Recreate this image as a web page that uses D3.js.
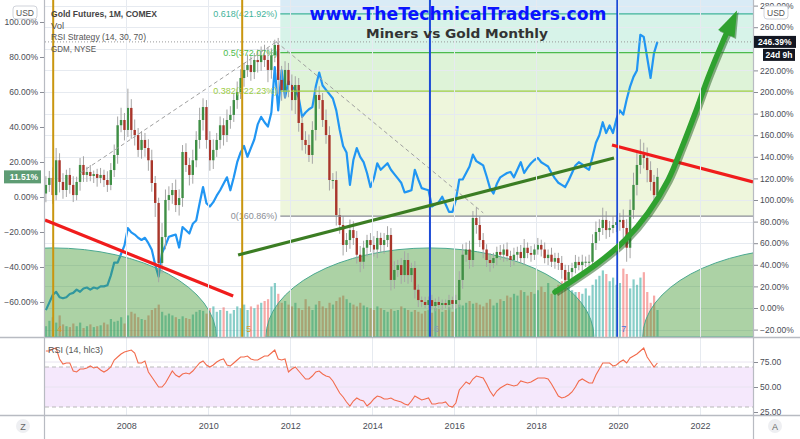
<!DOCTYPE html>
<html><head><meta charset="utf-8">
<script src="https://cdn.jsdelivr.net/npm/d3@7"></script>
<style>body{margin:0;background:#fff}svg{display:block}text{font-family:"Liberation Sans",Arial,sans-serif}</style>
</head><body><svg id="c" width="800" height="439"></svg>
<script>
// ---------- DATA (monthly, Jan 2006 .. Dec 2020) ----------
const START_YEAR = 2006;
const goldClose = [
 6.9,10.9,1.1,21,8.6,4,12.6,6.9,1.1,8.6,18.3,12.6,
 14.3,12,13.1,10.9,12.6,9.7,6.9,15.4,24,41,44,38.3,
 50.9,38.3,35.4,26.9,32.6,28,21,8,-3.4,-37.7,-22.9,-1.7,
 1.1,4,-4.6,-0.6,25.7,18.3,12.6,21,32.6,44,51.4,32.6,
 21,26.9,32.6,41,35.4,44,46.9,55.4,60,68,72.6,75.4,
 71.4,78.3,77.1,81,78.3,72.6,81,86.9,66.9,61,72.6,64,
 55.4,64,42.3,32.6,29.7,24,38.3,58.3,55.4,44,35.4,9.7,
 9.7,-10.3,-16,-27.4,-24.6,-18.9,-23.4,-33,-37,-29,-24.6,-27.4,
 -30,-23.4,-27.4,-24.6,-21.7,-47.4,-41.7,-38.9,-44.6,-36,-44.6,-40.6,
 -53,-58.9,-60,-61.7,-58.9,-62.3,-60,-61.7,-60.6,-61.7,-58.9,-61.1,
 -58.9,-47.4,-33,-30,-36,-12,-16,-24.6,-30,-36,-37.7,-34.9,
 -31.4,-33,-30,-33.7,-36,-33,-31.4,-34.9,-29,-32,-33,-30,
 -27.4,-30,-34.9,-33,-37,-34.9,-37.7,-41.7,-47.4,-42.9,-40.6,-37.1,
 -38.9,-37,-37,-37,-26.3,-20,-17.7,-13.1,-18.9,-17.7,-16,-14.3,
 -13.1,-17.7,-29,-7.4,6.9,18.3,24,22.3,15.4,8.6,1.1,11.51];
const goldFirstOpen = 2;
const goldWickUp = [
 5,4,6,7,4,5,3,4,5,3,4,5, 3,4,2,3,4,3,5,4,6,5,7,4, 11,5,6,4,5,4,5,6,4,3,8,6,
 5,4,6,5,4,5,4,6,5,7,5,4, 5,6,4,5,4,6,5,4,6,5,4,6, 5,4,6,5,6,7,4,3,4,8,5,4,
 6,5,4,4,5,6,5,4,5,4,6,5, 4,5,4,5,4,6,5,4,5,4,3,4, 5,4,3,4,5,4,5,3,4,5,4,3,
 4,3,2,3,2,3,2,3,2,2,3,2, 3,5,6,4,5,4,6,5,4,3,4,3, 3,4,3,4,3,4,3,4,5,3,4,3,
 4,3,4,3,4,3,3,4,3,4,3,4, 3,4,3,4,5,6,5,7,5,4,5,4, 4,6,5,6,7,8,9,7,6,5,4,5];
const goldWickDn = [
 5,4,5,3,6,5,4,5,4,3,5,4, 4,3,4,5,3,4,4,3,4,5,4,6, 4,5,6,4,5,5,6,5,8,11,6,7,
 6,5,4,6,5,4,6,5,4,5,6,5, 6,5,4,5,6,4,5,4,5,4,5,4, 5,4,6,5,4,7,5,4,8,6,5,7,
 6,8,5,6,5,4,5,6,5,4,5,6, 5,6,5,6,4,5,4,5,6,4,5,4, 4,5,4,5,4,6,5,4,5,4,5,4,
 5,4,3,2,3,2,3,2,3,2,3,3, 3,4,5,4,5,4,5,4,5,4,5,3, 4,3,4,3,4,3,4,3,4,3,4,3,
 3,4,3,4,3,4,4,5,4,3,4,3, 3,4,3,4,3,4,5,4,5,4,3,4, 5,6,8,6,5,6,5,6,7,5,6,4];
const volume = [
 60,90,110,80,120,70,60,55,75,60,80,50, 60,70,55,60,65,80,70,100,85,90,110,75,
 120,140,130,110,100,95,120,150,160,180,140,120, 130,120,110,100,115,105,100,125,140,150,145,130,
 160,170,140,150,165,145,130,150,170,160,180,150, 170,160,180,190,200,210,280,300,240,190,200,180,
 170,190,160,150,210,170,150,180,200,170,160,190, 180,200,220,230,210,190,180,170,190,175,165,160,
 150,170,160,150,140,155,145,150,170,160,150,140, 150,140,130,145,150,135,160,155,140,150,165,140,
 160,180,175,190,200,185,190,180,170,190,210,175, 190,210,200,230,220,240,230,260,250,230,250,240,
 260,280,250,300,240,270,290,310,330,280,260,250, 250,240,270,230,290,320,340,370,350,310,330,290,
 300,380,350,270,320,290,330,360,250,190,230,150];
const gdm = [
 -2,5,12,15,10,9,10,13,14,17,15,18, 19,17,19,18,20,20,21,30,42,42,50,58,
 74,70,68,65,63,65,60,54,40,29,51,58, 66,67,68,56,75,72,69,78,81,97,112,97,
 94,98,104,109,115,121,109,121,135,144,150,140, 148,156,170,177,172,168,181,223,183,220,195,210,
 205,202,195,177,181,184,186,205,218,206,202,198, 194,183,165,150,144,114,137,148,140,135,125,112,
 120,134,128,131,134,128,124,120,116,107,108,109, 128,119,111,110,109,94,96,98,103,96,89,89,
 100,119,119,125,131,142,136,134,132,122,111,106, 115,121,123,125,126,121,128,135,125,130,134,137,
 139,135,133,131,125,120,116,114,112,118,125,132, 135,133,130,128,140,153,160,172,162,169,162,175,
 183,179,193,205,214,220,253,251,232,213,236,246.39];
const rsi = [
 86,86,88,89,78,73,74,74,66,65,68,68, 69,71,69,70,67,65,67,70,77,80,83,85,
 86,87,84,74,74,76,65,60,55,50,50,54, 60,66,62,60,63,64,63,66,70,74,76,72,
 70,72,75,77,78,72,71,74,77,80,80,81, 78,77,77,79,81,81,84,87,78,77,78,65,
 68,70,66,62,58,58,61,65,66,63,61,60, 56,50,44,40,35,31,36,39,37,36,31,34,
 38,41,40,38,38,39,37,36,35,33,32,36, 41,39,37,38,39,33,33,34,34,35,31,30,
 34,47,51,55,53,58,61,60,59,53,46,41, 46,49,51,53,52,51,52,56,55,54,55,57,
 59,59,59,58,53,47,41,39,40,42,45,50, 56,58,56,54,54,62,68,74,74,74,71,72,
 75,77,74,79,81,83,86,89,80,75,70,74];
const yearTicks = [2008,2010,2012,2014,2016,2018,2020,2022];
const leftTicks = [-60,-40,-20,0,20,40,60,80,100];
const rightTicks = [-20,0,20,40,60,80,100,120,140,160,180,200,220,260,280];
const gridTicks = [-20,0,20,40,60,80,100,120,140,160,180,200,220,240,260,280];
const rsiTicks = [25,50,75];
const fibBase = -10.9, fibRange = 186.9, fibStart = 2011.76;
const fibLevels = [
 {r:0.618, label:"0.618(421.92%)", color:"#3fb39a"},
 {r:0.5,   label:"0.5(372.07%)",   color:"#4cbb4c"},
 {r:0.382, label:"0.382(322.23%)", color:"#9ccc45"},
 {r:0,     label:"0(160.86%)",     color:"#8a8d96"}];
const fibZoneColors = ["#d9ebf6","#d7f3e9","#def3d8","#eef6dc"];
const cycles = [
 {year:2006.22, label:"4", color:"#c9960f"},
 {year:2010.83, label:"5", color:"#c9960f"},
 {year:2015.41, label:"6", color:"#1b4ad6"},
 {year:2019.98, label:"7", color:"#1b4ad6"}];
const cycleLabelColors = ["#d89a2a","#d89a2a","#8a97b8","#4a72d8"];
const arcs = [{center:2006.2, half:4.0, top:-29.1},{center:2015.41, half:4.0, top:-29.1},{center:2024.6, half:4.0, top:-29.1}];
const redLines = [[[2006.02,-13.1],[2010.61,-56.6]], [[2019.85,29.7],[2023.29,8.6]]];
const greenLine = [[2010.73,-33.1],[2019.9,22.3]];
const dashedLines = [[[2006.88,13.7],[2011.66,88.6]], [[2011.66,88.6],[2016.71,-9.1]]];
const arrowPts = [[2018.46,-54.3],[2019.51,-37.7],[2020.17,-24.6],[2020.73,-9.1],[2021.22,9.7],[2021.56,28.6],[2021.88,48],[2022.20,68.6],[2022.54,88],[2022.66,94.3]];
const arrowTip = [2022.90,106.5];

// ---------- LAYOUT ----------
const svg = d3.select("#c");
const L=45, R=753, MT=0, MB=337, RT=338, RB=415;
const x = d3.scaleLinear().domain([2006.02, 2023.29]).range([L, R]);
const yL = d3.scaleLinear().domain([-80, 112.57]).range([MB, MT]);
const yR = d3.scaleLinear().domain([-26.85, 285.19]).range([MB, MT]);
const yV = d3.scaleLinear().domain([0, 500]).range([MB, 247]);
const yS = d3.scaleLinear().domain([22, 100]).range([RB, RT-1]);
const mt = i => START_YEAR + (i + 0.5) / 12;
const N = goldClose.length;

const defs = svg.append("defs");
defs.append("clipPath").attr("id","cm").append("rect").attr("x",L).attr("y",MT).attr("width",R-L).attr("height",MB-MT);
defs.append("clipPath").attr("id","cr").append("rect").attr("x",L).attr("y",RT).attr("width",R-L).attr("height",RB-RT);

const main = svg.append("g").attr("clip-path","url(#cm)");

// fib zones
const fibY = r => yL(fibBase + fibRange * r);
const zoneBounds = [[MT, fibY(0.618)],[fibY(0.618), fibY(0.5)],[fibY(0.5), fibY(0.382)],[fibY(0.382), fibY(0)]];
zoneBounds.forEach((b,k)=>{
  main.append("rect").attr("x",x(fibStart)).attr("y",b[0]).attr("width",R-x(fibStart)).attr("height",b[1]-b[0]).attr("fill",fibZoneColors[k]);
});

// grid
main.selectAll(".hg").data(gridTicks).join("line").attr("x1",L).attr("x2",R)
  .attr("y1",d=>Math.round(yR(d))+0.5).attr("y2",d=>Math.round(yR(d))+0.5).attr("stroke","#e6eaf0").attr("stroke-width",1);
svg.selectAll(".vg").data(yearTicks).join("line").attr("x1",d=>Math.round(x(d))+0.5).attr("x2",d=>Math.round(x(d))+0.5)
  .attr("y1",MT).attr("y2",RB).attr("stroke","#e6eaf0");

// volume
const opens = goldClose.map((c,i)=> i===0 ? goldFirstOpen : goldClose[i-1]);
main.selectAll(".vol").data(volume).join("rect")
  .attr("x",(d,i)=>x(mt(i))-1).attr("width",2.2)
  .attr("y",d=>yV(d)).attr("height",d=>MB-yV(d))
  .attr("fill",(d,i)=> goldClose[i]>=opens[i] ? "rgba(38,166,154,0.55)" : "rgba(239,83,80,0.5)");

// blue GDM line
main.append("path").datum(gdm).attr("fill","none").attr("stroke","#2196f3").attr("stroke-width",2.2)
  .attr("stroke-linejoin","round")
  .attr("d", d3.line().x((d,i)=>x(mt(i))).y(d=>yR(d)));

// arcs
arcs.forEach(a=>{
  const x0=x(a.center-a.half), x1=x(a.center+a.half), rx=(x1-x0)/2, ry=MB-yL(a.top);
  main.append("path").attr("d",`M${x0},${MB} A${rx},${ry} 0 0 1 ${x1},${MB} Z`)
    .attr("fill","rgba(70,155,55,0.45)").attr("stroke","#4aa88f").attr("stroke-width",1);
});

// candles
const cg = main.append("g");
goldClose.forEach((c,i)=>{
  const o=opens[i], hi=Math.max(o,c)+goldWickUp[i], lo=Math.min(o,c)-goldWickDn[i];
  const cx=x(mt(i)), up=c>=o;
  cg.append("line").attr("x1",cx).attr("x2",cx).attr("y1",yL(hi)).attr("y2",yL(lo)).attr("stroke","#a5a5a5").attr("stroke-width",1);
  const y0=yL(Math.max(o,c)), y1=yL(Math.min(o,c));
  cg.append("rect").attr("x",cx-1.2).attr("width",2.4).attr("y",y0).attr("height",Math.max(1,y1-y0))
    .attr("fill",up?"#3f8f45":"#a9362b");
});

// fib lines and labels
fibLevels.forEach(f=>{
  const yy=fibY(f.r);
  main.append("line").attr("x1",x(fibStart)).attr("x2",R).attr("y1",yy).attr("y2",yy).attr("stroke",f.color).attr("stroke-width",1.3);
  main.append("text").attr("x",x(fibStart)-3).attr("y",yy+3).attr("text-anchor","end").attr("font-size",9).attr("fill",f.color).text(f.label);
});

// dotted last-price line of GDM
main.append("line").attr("x1",L).attr("x2",R).attr("y1",yR(gdm[N-1])).attr("y2",yR(gdm[N-1]))
  .attr("stroke","#9a9a9a").attr("stroke-dasharray","1,2");

// dashed fib trend lines
dashedLines.forEach(l=>{
  main.append("line").attr("x1",x(l[0][0])).attr("y1",yL(l[0][1])).attr("x2",x(l[1][0])).attr("y2",yL(l[1][1]))
    .attr("stroke","#a0a0a0").attr("stroke-dasharray","4,3").attr("stroke-width",1);
});

// cycle vertical lines
cycles.forEach((c,k)=>{
  main.append("line").attr("x1",x(c.year)).attr("x2",x(c.year)).attr("y1",MT).attr("y2",MB).attr("stroke",c.color).attr("stroke-width",2);
  main.append("text").attr("x",x(c.year)+4).attr("y",MB-5).attr("font-size",9).attr("fill",cycleLabelColors[k]).text(c.label);
});

// trend lines
redLines.forEach(l=>{
  main.append("line").attr("x1",x(l[0][0])).attr("y1",yL(l[0][1])).attr("x2",x(l[1][0])).attr("y2",yL(l[1][1]))
    .attr("stroke","#f01c1c").attr("stroke-width",3.2);
});
main.append("line").attr("x1",x(greenLine[0][0])).attr("y1",yL(greenLine[0][1])).attr("x2",x(greenLine[1][0])).attr("y2",yL(greenLine[1][1]))
  .attr("stroke","#3b7d23").attr("stroke-width",3.2);

// big green arrow
const aLine = d3.line().x(d=>x(d[0])).y(d=>yL(d[1])).curve(d3.curveCatmullRom);
const P = arrowPts[arrowPts.length-1];
const px=x(P[0]), py=yL(P[1]), tx=x(arrowTip[0]), ty=yL(arrowTip[1]);
const dx=tx-px, dy=ty-py, len=Math.hypot(dx,dy), nx=-dy/len, ny=dx/len, hw=9;
const bx=px-dx/len*2, by=py-dy/len*2;
const head = `M${tx},${ty} L${bx+nx*hw},${by+ny*hw} L${bx-nx*hw},${by-ny*hw} Z`;
const ag = main.append("g");
ag.append("path").attr("d",aLine(arrowPts)).attr("fill","none").attr("stroke","#1e5e1a").attr("stroke-width",6).attr("opacity",0.5).attr("transform","translate(1.5,1.5)");
ag.append("path").attr("d",head).attr("fill","#1e5e1a").attr("opacity",0.5).attr("transform","translate(1.5,1.5)");
ag.append("path").attr("d",aLine(arrowPts)).attr("fill","none").attr("stroke","#2fa12f").attr("stroke-width",5.5).attr("stroke-linecap","round");
ag.append("path").attr("d",head).attr("fill","#2fa12f");

// titles
svg.append("text").attr("x",458).attr("y",20).attr("text-anchor","middle").attr("font-size",17).attr("font-weight","bold")
  .style("font-family","'DejaVu Sans',Verdana,sans-serif").attr("fill","#0a14ff").attr("textLength",297).attr("lengthAdjust","spacingAndGlyphs").text("www.TheTechnicalTraders.com");
svg.append("text").attr("x",457).attr("y",38).attr("text-anchor","middle").attr("font-size",13).attr("font-weight","bold")
  .style("font-family","'DejaVu Sans',Verdana,sans-serif").attr("fill","#333").attr("textLength",182).attr("lengthAdjust","spacingAndGlyphs").text("Miners vs Gold Monthly");

// legend
const legend = [["Gold Futures, 1M, COMEX","bold","#444",106],["Vol","normal","#555",null],["RSI Strategy (14, 30, 70)","normal","#555",95],["GDM, NYSE","normal","#555",45]];
legend.forEach((l,k)=>{
  const t=svg.append("text").attr("x",51).attr("y",17+k*11.6).attr("font-size",9.5).attr("font-weight",l[1]).attr("fill",l[2]).text(l[0]);
  if(l[3]) t.attr("textLength",l[3]).attr("lengthAdjust","spacingAndGlyphs");
});

// ---------- RSI pane ----------
const rp = svg.append("g").attr("clip-path","url(#cr)");
rp.append("rect").attr("x",L).attr("width",R-L).attr("y",yS(70)).attr("height",yS(30)-yS(70)).attr("fill","#f5e8fc");
[75,50].forEach(v=>rp.append("line").attr("x1",L).attr("x2",R).attr("y1",yS(v)).attr("y2",yS(v)).attr("stroke","#e8e4f0"));
[70,30].forEach(v=>rp.append("line").attr("x1",L).attr("x2",R).attr("y1",yS(v)).attr("y2",yS(v)).attr("stroke","#b9b9b9").attr("stroke-dasharray","4,3"));
rp.append("path").datum(rsi).attr("fill","none").attr("stroke","#f26b4c").attr("stroke-width",1.1)
  .attr("d",d3.line().x((d,i)=>x(mt(i))).y(d=>yS(d)));
svg.append("text").attr("x",48).attr("y",353).attr("font-size",9).attr("fill","#555").text("RSI (14, hlc3)");

// ---------- frame ----------
const frame = "#b8bbc2";
svg.append("line").attr("x1",0).attr("x2",800).attr("y1",MB+0.5).attr("y2",MB+0.5).attr("stroke",frame).attr("stroke-width",1.5);
svg.append("line").attr("x1",0).attr("x2",800).attr("y1",RB+0.5).attr("y2",RB+0.5).attr("stroke",frame).attr("stroke-width",1.5);
svg.append("line").attr("x1",L-0.5).attr("x2",L-0.5).attr("y1",0).attr("y2",439).attr("stroke",frame).attr("stroke-width",1.2);
svg.append("line").attr("x1",R+0.5).attr("x2",R+0.5).attr("y1",0).attr("y2",439).attr("stroke",frame).attr("stroke-width",1.2);

// ---------- axes ----------
const fmtPct = d => (d<0?"\u2212":"") + Math.abs(d).toFixed(2) + "%";
function styleAxis(g){ g.select(".domain").remove(); g.selectAll("text").attr("font-size",8.5).attr("fill","#4a4d56").style("font-family","'Liberation Sans',Arial,sans-serif"); g.selectAll("line").attr("stroke","#8a8d96"); }
svg.append("g").attr("transform",`translate(${L-1},0)`).call(d3.axisLeft(yL).tickValues(leftTicks).tickFormat(fmtPct).tickSize(4).tickPadding(2)).call(styleAxis);
svg.append("g").attr("transform",`translate(${R+1},0)`).call(d3.axisRight(yR).tickValues(rightTicks).tickFormat(fmtPct).tickSize(4).tickPadding(2)).call(styleAxis);
svg.append("g").attr("transform",`translate(${R+1},0)`).call(d3.axisRight(yS).tickValues(rsiTicks).tickFormat(d=>d.toFixed(2)).tickSize(4).tickPadding(2)).call(styleAxis);
svg.append("g").attr("transform",`translate(0,${RB})`).call(d3.axisBottom(x).tickValues(yearTicks).tickFormat(d3.format("d")).tickSize(0).tickPadding(8)).call(g=>{styleAxis(g); g.selectAll("text").attr("font-size",9);});

// USD boxes
[[13,"USD"],[764,"USD"]].forEach(b=>{
  svg.append("rect").attr("x",b[0]).attr("y",6).attr("width",24).attr("height",13).attr("rx",3).attr("fill","#fff").attr("stroke","#d0d3da");
  svg.append("text").attr("x",b[0]+12).attr("y",15.5).attr("text-anchor","middle").attr("font-size",8.5).attr("fill","#555").text(b[1]);
});

// last value labels
const lastGold = goldClose[N-1];
svg.append("rect").attr("x",4).attr("y",yL(lastGold)-6.5).attr("width",37).attr("height",13).attr("fill","#5e9c74");
svg.append("text").attr("x",38).attr("y",yL(lastGold)+3).attr("text-anchor","end").attr("font-size",8.5).attr("font-weight","bold").attr("fill","#fff").text(lastGold.toFixed(2)+"%");
const lg = gdm[N-1];
svg.append("rect").attr("x",754).attr("y",yR(lg)-6).attr("width",42).attr("height",12).attr("fill","#131722");
svg.append("text").attr("x",758).attr("y",yR(lg)+3).attr("font-size",8.5).attr("font-weight","bold").attr("fill","#fff").text(lg.toFixed(2)+"%");
svg.append("rect").attr("x",763).attr("y",yR(lg)+7).attr("width",32).attr("height",12).attr("fill","#131722");
svg.append("text").attr("x",779).attr("y",yR(lg)+16).attr("text-anchor","middle").attr("font-size",8.5).attr("font-weight","bold").attr("fill","#fff").text("24d 9h");

// bottom corner buttons
[[23,"Z"],[775,"A"]].forEach(b=>{
  svg.append("circle").attr("cx",b[0]).attr("cy",426).attr("r",7).attr("fill","#eeeff2");
  svg.append("text").attr("x",b[0]).attr("y",429.5).attr("text-anchor","middle").attr("font-size",9).attr("fill","#666").text(b[1]);
});
</script></body></html>
